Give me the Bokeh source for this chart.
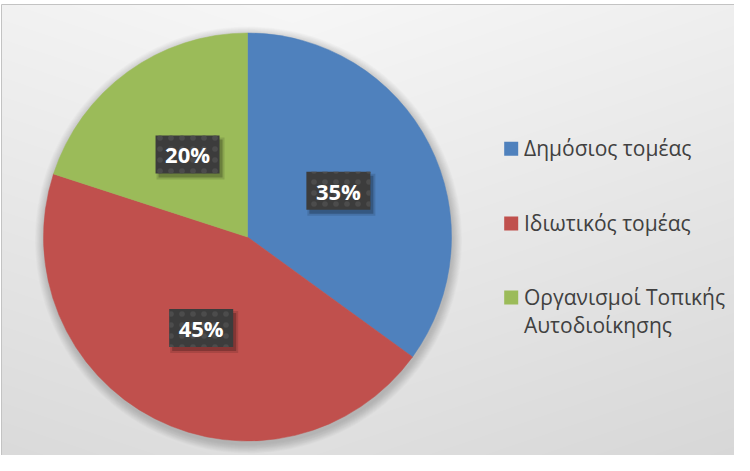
import textwrap
import numpy as np
from bokeh.plotting import figure
from bokeh.models import Range1d
from bokeh.core.properties import value
from bokeh.embed import file_html
from bokeh.resources import INLINE

# ---- data ----
categories = ["Δημόσιος τομέας", "Ιδιωτικός τομέας", "Οργανισμοί Τοπικής Αυτοδιοίκησης"]
values = [35, 45, 20]
slice_colors = ["#4F81BD", "#C0504D", "#9BBB59"]

W, H = 734, 455
def X(sx):
    return sx - 8
def Y(sy):
    return H + 8 - sy

p = figure(width=W, height=H, x_range=Range1d(0, W), y_range=Range1d(0, H),
           x_axis_type=None, y_axis_type=None, output_backend="svg",
           toolbar_location=None, min_border=0)
p.outline_line_color = None
p.background_fill_color = "white"
p.border_fill_color = "white"

# ---- chart-area background gradient ----
left_fx, top_fy = 1, 4
wi, hi = W - left_fx, H - top_fy
rows = np.arange(hi)
cols = np.arange(wi)
sy = (H + 8) - (rows + 0.5)
sx = cols + left_fx + 8 + 0.5
tv = np.clip((sy - 12) / (471 - 12), 0, 1)[:, None]
g = 247 - 24 * tv - 8 * np.abs(sx[None, :] - 300) / 450
g = np.clip(g, 0, 255).astype(np.uint8)
img = np.empty((hi, wi), dtype=np.uint32)
view = img.view(dtype=np.uint8).reshape((hi, wi, 4))
view[..., 0] = g
view[..., 1] = g
view[..., 2] = g
view[..., 3] = 255
p.image_rgba(image=[img], x=left_fx, y=0, dw=wi, dh=hi)
p.quad(left=left_fx, right=W + 30, top=Y(12), bottom=-30,
       fill_color=None, line_color="#c3c3c3", line_width=1)

# ---- pie ----
cx, cy, r = X(255), Y(244.5), 204
for k in range(1, 13):
    p.circle(x=[cx + 1], y=[cy - 3], radius=r + k * 0.8,
             fill_color="black", fill_alpha=0.016, line_color=None)

vals = np.array(values, dtype=float)
frac = vals / vals.sum()
cum = np.concatenate([[0], np.cumsum(frac)])
start = np.pi / 2 - cum[:-1] * 2 * np.pi
end = np.pi / 2 - cum[1:] * 2 * np.pi
p.wedge(x=cx, y=cy, radius=r, start_angle=start, end_angle=end,
        direction="clock", fill_color=slice_colors, line_color=slice_colors,
        line_width=0.5)

# ---- data labels ----
mid = (start + end) / 2
lx = cx + 0.5 * r * np.cos(mid)
ly = cy + 0.5 * r * np.sin(mid)
labels = [f"{v:.0f}%" for v in frac * 100]
bw, bh = 64, 38
p.rect(x=lx + 3, y=ly - 4, width=bw + 4, height=bh + 4,
       fill_color="black", fill_alpha=0.12, line_color=None)
p.rect(x=lx + 3, y=ly - 4, width=bw, height=bh,
       fill_color="black", fill_alpha=0.22, line_color=None)
p.rect(x=lx, y=ly, width=bw, height=bh, fill_color="#3c3c3c",
       hatch_pattern="dot", hatch_color="#4c4c4c", hatch_scale=11,
       hatch_weight=2.5, line_color=None)
p.text(x=lx, y=ly, text=labels, text_font=value("Open Sans"),
       text_font_style="bold", text_font_size="22px", text_color="white",
       text_align="center", text_baseline="middle")

# ---- legend ----
row_y = [156.3, 231, 305]
line_gap = 28
sq_x = X(518.7)
txt_x = X(531.5)
p.rect(x=[sq_x] * len(categories), y=[Y(v) for v in row_y], width=14, height=14,
       fill_color=slice_colors, line_color=None)
tx, ty, tt = [], [], []
for cat, ry in zip(categories, row_y):
    for i, line in enumerate(textwrap.wrap(cat, width=20)):
        tx.append(txt_x)
        ty.append(Y(ry - 1 + i * line_gap))
        tt.append(line)
p.text(x=tx, y=ty, text=tt, text_font=value("Open Sans"), text_font_size="21px",
       text_color="#404040", text_align="left", text_baseline="middle")

open("out.html", "w").write(file_html(p, INLINE))
